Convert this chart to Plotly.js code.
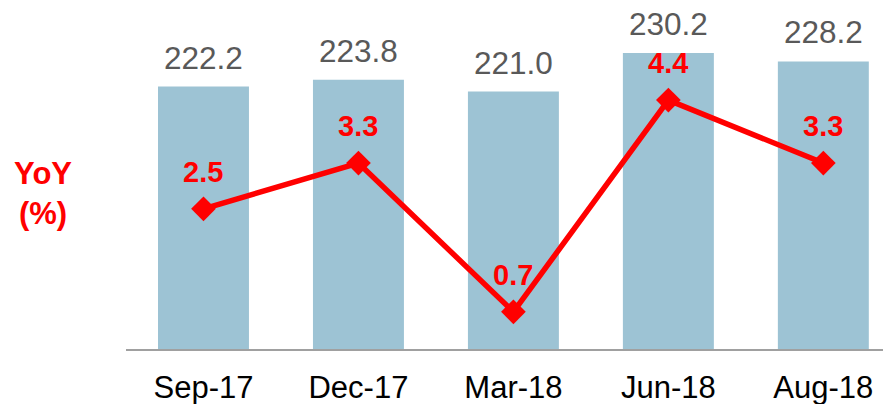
<!DOCTYPE html>
<html>
<head>
<meta charset="utf-8">
<script src="https://cdn.plot.ly/plotly-3.0.1.min.js"></script>
<style>html,body{margin:0;padding:0;background:#fff;}#chart{width:883px;height:404px;}</style>
</head>
<body>
<div id="chart"></div>
<script>
const categories = ["Sep-17", "Dec-17", "Mar-18", "Jun-18", "Aug-18"];
const indexValues = [222.2, 223.8, 221.0, 230.2, 228.2];
const yoyValues = [2.5, 3.3, 0.7, 4.4, 3.3];
const indexLabels = ["222.2", "223.8", "221.0", "230.2", "228.2"];
const yoyLabels = ["2.5", "3.3", "0.7", "4.4", "3.3"];

const bars = {
  type: "bar",
  x: categories,
  y: indexValues,
  width: 0.587,
  marker: {color: "#9DC3D4"},
  hoverinfo: "none",
  yaxis: "y"
};
const line = {
  type: "scatter",
  mode: "lines+markers",
  x: categories,
  y: yoyValues,
  yaxis: "y2",
  line: {color: "#FF0000", width: 5.5},
  marker: {symbol: "diamond", size: 19, color: "#FF0000"},
  hoverinfo: "none",
  cliponaxis: false
};

const annotations = [];
categories.forEach((c, i) => {
  annotations.push({
    x: c, y: indexValues[i], xref: "x", yref: "y",
    text: indexLabels[i], showarrow: false, yanchor: "middle", yshift: 29,
    font: {family: "Liberation Sans, Arial, sans-serif", size: 31.5, color: "#595959"}
  });
  annotations.push({
    x: c, y: yoyValues[i], xref: "x", yref: "y2",
    text: "<b>" + yoyLabels[i] + "</b>", showarrow: false, yanchor: "middle", yshift: 37,
    font: {family: "Liberation Sans, Arial, sans-serif", size: 29, color: "#FF0000"}
  });
});
annotations.push({
  xref: "paper", yref: "paper", x: -0.109, y: 0.445, xanchor: "center", yanchor: "middle",
  text: "<b>YoY<br>(%)</b>", showarrow: false, align: "center",
  font: {family: "Liberation Sans, Arial, sans-serif", size: 31, color: "#FF0000"}
});

const layout = {
  width: 883, height: 404,
  margin: {l: 126, r: 0, t: 0, b: 55},
  paper_bgcolor: "#ffffff", plot_bgcolor: "#ffffff",
  showlegend: false,
  xaxis: {
    type: "category", range: [-0.5, 4.385],
    showline: true, linecolor: "#A0A0A0", linewidth: 1.5,
    showgrid: false, zeroline: false, ticks: "",
    ticklabelstandoff: 10,
    tickfont: {family: "Liberation Sans, Arial, sans-serif", size: 31, color: "#000000"},
    fixedrange: true
  },
  yaxis: {range: [159.4, 242.9], visible: false, showgrid: false, zeroline: false, fixedrange: true},
  yaxis2: {range: [0.05, 6.15], overlaying: "y", side: "right", visible: false, showgrid: false, zeroline: false, fixedrange: true},
  annotations: annotations
};

Plotly.newPlot("chart", [bars, line], layout, {displayModeBar: false, staticPlot: true});
</script>
</body>
</html>
